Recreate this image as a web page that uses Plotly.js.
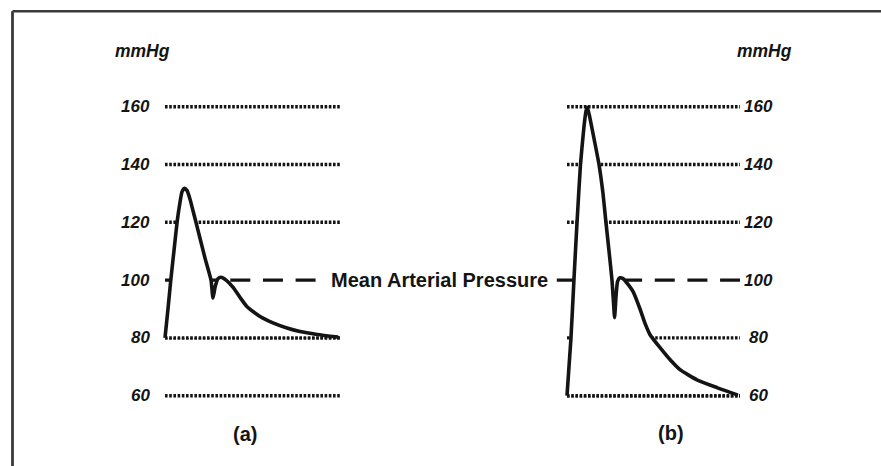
<!DOCTYPE html>
<html>
<head>
<meta charset="utf-8">
<script src="https://cdn.plot.ly/plotly-3.0.1.min.js"></script>
<style>
  html, body { margin: 0; padding: 0; background: #ffffff; }
  #chart { width: 881px; height: 466px; }
</style>
</head>
<body>
<div id="chart"></div>
<script>
// ---------------- DATA ----------------
// Pressure levels (mmHg) shown as tick labels / dotted reference lines
const tickValues = [60, 80, 100, 120, 140, 160];
const tickLabels = ["60", "80", "100", "120", "140", "160"];
const dottedLevels = [60, 80, 120, 140, 160];
const meanArterialPressure = 100;

// Panel (a): one cardiac cycle, normalized time (0..1) and pressure (mmHg)
const waveATime = [0, 0.017, 0.033, 0.051, 0.069, 0.086, 0.097, 0.111, 0.126, 0.143, 0.160, 0.177, 0.200, 0.229, 0.263, 0.274, 0.286, 0.303, 0.320, 0.349, 0.389, 0.429, 0.469, 0.543, 0.617, 0.697, 0.771, 0.869, 0.989];
const waveAPressure = [80, 90, 100, 110, 120, 127, 130.5, 131.8, 131, 128, 124, 120, 114.5, 107.5, 100, 93.8, 97.5, 100.5, 101, 100, 97.5, 94, 90.8, 87.4, 85.2, 83.4, 82.2, 81.2, 80.3];

// Panel (b): one cardiac cycle, normalized time (0..1) and pressure (mmHg)
const waveBTime = [0, 0.023, 0.040, 0.058, 0.078, 0.098, 0.110, 0.118, 0.133, 0.156, 0.185, 0.208, 0.225, 0.243, 0.260, 0.269, 0.275, 0.283, 0.292, 0.306, 0.324, 0.353, 0.382, 0.422, 0.451, 0.480, 0.538, 0.595, 0.653, 0.751, 0.867, 0.988];
const waveBPressure = [60, 80, 100, 120, 140, 153, 158.5, 159.8, 156, 149, 140, 130, 120, 110, 100, 92, 87, 94, 99.5, 100.8, 100.5, 98.5, 96, 90, 85, 81.1, 76.6, 72.5, 69, 65.5, 62.8, 60.2];

const panelLabels = ["(a)", "(b)"];
const unitLabel = "mmHg";
const mapLabel = "Mean Arterial Pressure";

// ---------------- LAYOUT GEOMETRY ----------------
const W = 881, H = 466;
const panelA = { left: 165, right: 340 };
const panelB = { left: 567, right: 740 };
const yPxLow = 395.7, yPxHigh = 106.7;   // pixel rows of 60 and 160 mmHg
const tRange = [-0.05, 1.05];
const yRange = [55, 165];

const ppu = (yPxLow - yPxHigh) / (160 - 60);
const yTopPx = yPxHigh - (yRange[1] - 160) * ppu;
const yBotPx = yPxLow + (60 - yRange[0]) * ppu;
const yDomain = [1 - yBotPx / H, 1 - yTopPx / H];

function xDomain(p) {
  const span = p.right - p.left;
  return [(p.left + tRange[0] * span) / W, (p.left + tRange[1] * span) / W];
}
const px = v => v / W;
const py = v => 1 - v / H;

const ink = "#141414";
const fontFam = "Liberation Sans, Arial, Helvetica, sans-serif";

// ---------------- TRACES ----------------
function dottedTrace(levels, xa) {
  const xs = [], ys = [];
  levels.forEach(l => { xs.push(0, 1, null); ys.push(l, l, null); });
  return { x: xs, y: ys, xaxis: xa, yaxis: "y", mode: "lines", hoverinfo: "skip",
           line: { color: ink, width: 3.4, dash: "2.6px,1.6px" } };
}

const waveLine = { color: ink, width: 3.6, shape: "spline", smoothing: 0.5 };

const traces = [
  dottedTrace(dottedLevels, "x"),
  dottedTrace(dottedLevels, "x2"),
  // white fill under waveforms (hides reference lines behind pulse)
  { x: waveATime, y: waveAPressure, xaxis: "x", yaxis: "y", mode: "lines", fill: "toself", fillcolor: "#ffffff",
    line: { width: 0, shape: "spline", smoothing: 0.5 }, hoverinfo: "skip" },
  { x: waveBTime, y: waveBPressure, xaxis: "x2", yaxis: "y", mode: "lines", fill: "toself", fillcolor: "#ffffff",
    line: { width: 0, shape: "spline", smoothing: 0.5 }, hoverinfo: "skip" },
  // baselines redrawn on top of fill
  dottedTrace([waveAPressure[0]], "x"),
  dottedTrace([waveBPressure[0]], "x2"),
  // waveforms
  { x: waveATime, y: waveAPressure, xaxis: "x", yaxis: "y", mode: "lines", hoverinfo: "skip", line: waveLine },
  { x: waveBTime, y: waveBPressure, xaxis: "x2", yaxis: "y", mode: "lines", hoverinfo: "skip", line: waveLine }
];

// ---------------- ANNOTATIONS ----------------
const labelFont = { family: fontFam, size: 17, color: ink, weight: "bold", style: "italic" };
const annotations = [];
tickValues.forEach((v, i) => {
  annotations.push({ xref: "paper", yref: "y", x: px(152), y: v, text: tickLabels[i],
    showarrow: false, xanchor: "right", yanchor: "middle", font: labelFont });
  annotations.push({ xref: "paper", yref: "y", x: px(758.5), y: v, text: tickLabels[i],
    showarrow: false, xanchor: "center", yanchor: "middle", font: labelFont });
});
annotations.push({ xref: "paper", yref: "paper", x: px(142.5), y: py(51), text: unitLabel,
  showarrow: false, xanchor: "center", yanchor: "middle", font: Object.assign({}, labelFont, { size: 17.5 }) });
annotations.push({ xref: "paper", yref: "paper", x: px(764), y: py(51), text: unitLabel,
  showarrow: false, xanchor: "center", yanchor: "middle", font: Object.assign({}, labelFont, { size: 17.5 }) });
annotations.push({ xref: "paper", yref: "paper", x: px(245), y: py(434), text: panelLabels[0],
  showarrow: false, xanchor: "center", yanchor: "middle",
  font: { family: fontFam, size: 20, color: ink, weight: "bold" } });
annotations.push({ xref: "paper", yref: "paper", x: px(671), y: py(433), text: panelLabels[1],
  showarrow: false, xanchor: "center", yanchor: "middle",
  font: { family: fontFam, size: 20, color: ink, weight: "bold" } });
annotations.push({ xref: "paper", yref: "y", x: px(439), y: meanArterialPressure, text: mapLabel,
  showarrow: false, xanchor: "center", yanchor: "middle", bgcolor: "#ffffff", borderpad: 3,
  font: { family: fontFam, size: 20, color: ink, weight: "bold" } });

// ---------------- SHAPES ----------------
const shapes = [
  // Mean arterial pressure dashed line spanning both panels
  { type: "line", layer: "below", xref: "paper", yref: "y",
    x0: px(panelA.left), x1: px(panelB.right), y0: meanArterialPressure, y1: meanArterialPressure,
    line: { color: ink, width: 3.2, dash: "20px,12.65px" } },
  // frame
  { type: "line", xref: "paper", yref: "paper", x0: px(12.5), x1: 1.01, y0: py(11.3), y1: py(11.3),
    line: { color: "#3a3a3a", width: 2.5 } },
  { type: "line", xref: "paper", yref: "paper", x0: px(12.5), x1: px(12.5), y0: py(11.3), y1: -0.01,
    line: { color: "#3a3a3a", width: 2.8 } }
];

const hidden = { visible: false, showgrid: false, zeroline: false, fixedrange: true };
const layout = {
  width: W, height: H,
  margin: { l: 0, r: 0, t: 0, b: 0 },
  paper_bgcolor: "#ffffff", plot_bgcolor: "rgba(0,0,0,0)",
  showlegend: false,
  xaxis: Object.assign({ domain: xDomain(panelA), range: tRange, anchor: "y" }, hidden),
  xaxis2: Object.assign({ domain: xDomain(panelB), range: tRange, anchor: "y" }, hidden),
  yaxis: Object.assign({ domain: yDomain, range: yRange, anchor: "x" }, hidden),
  annotations: annotations,
  shapes: shapes
};

Plotly.newPlot("chart", traces, layout, { displayModeBar: false, staticPlot: true });
</script>
</body>
</html>
